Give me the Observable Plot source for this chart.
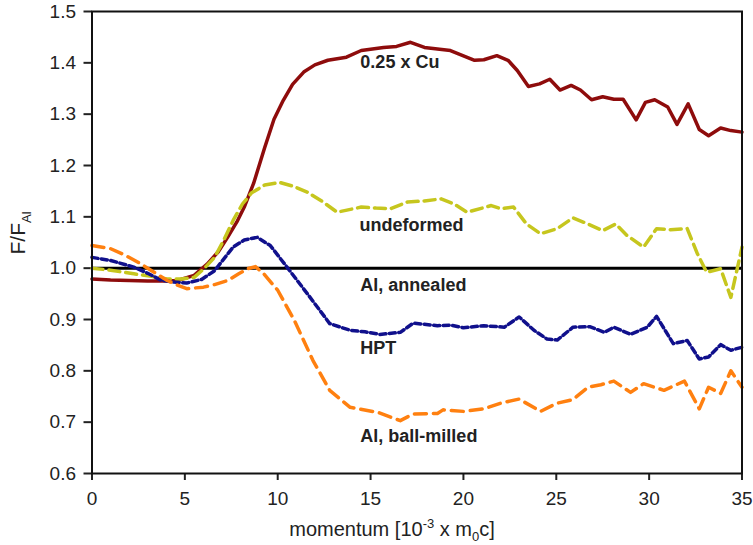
<!DOCTYPE html>
<html>
<head>
<meta charset="utf-8">
<script src="https://cdn.jsdelivr.net/npm/d3@7"></script>
<script src="https://cdn.jsdelivr.net/npm/@observablehq/plot@0.6"></script>
<style>
  html, body { margin: 0; padding: 0; background: #fff; }
  #chart { width: 753px; height: 545px; }
</style>
</head>
<body>
<div id="chart"></div>
<script>
// ---- data ----
const xTicks = [0, 5, 10, 15, 20, 25, 30, 35];
const yTicks = [0.6, 0.7, 0.8, 0.9, 1.0, 1.1, 1.2, 1.3, 1.4, 1.5];

const cuX = [0,1,2,3,4,4.6,5.5,6.2,6.8,7.3,7.8,8.2,8.7,9.3,9.8,10.3,10.8,11.4,12.0,12.7,13.7,14.5,15.7,16.4,17.15,17.9,19.3,20.6,21.1,21.8,22.4,22.9,23.5,24.1,24.65,25.2,25.8,26.3,26.9,27.5,28.1,28.6,29.3,29.8,30.3,31,31.5,32.1,32.7,33.2,33.85,34.4,35];
const cuY = [0.979,0.977,0.976,0.975,0.975,0.976,0.986,1.008,1.032,1.06,1.09,1.119,1.165,1.235,1.29,1.327,1.358,1.382,1.396,1.405,1.411,1.424,1.43,1.432,1.44,1.43,1.424,1.405,1.406,1.414,1.405,1.385,1.354,1.359,1.368,1.347,1.356,1.347,1.328,1.334,1.329,1.329,1.289,1.323,1.328,1.314,1.28,1.32,1.27,1.258,1.273,1.268,1.265];

const undefX = [0,1,2.25,3.2,4.05,4.8,5.5,6.0,6.6,7.1,7.6,8.1,8.6,9.3,10.1,10.8,11.6,12.4,13.2,14.5,15.3,16.1,17,17.9,18.8,19.5,20.2,21.5,22.0,22.7,23.4,24.15,25.05,25.9,26.7,27.5,28.2,28.8,29.7,30.4,31.15,32.05,32.6,33.1,33.85,34.4,35];
const undefY = [1.0,0.996,0.989,0.984,0.979,0.979,0.982,0.998,1.021,1.055,1.093,1.125,1.147,1.162,1.167,1.16,1.148,1.13,1.109,1.119,1.117,1.116,1.129,1.131,1.135,1.125,1.109,1.122,1.116,1.119,1.086,1.067,1.077,1.098,1.086,1.073,1.086,1.064,1.041,1.077,1.075,1.077,1.028,0.992,0.999,0.943,1.041];

const hptX = [0,1,2.25,3,3.7,4.4,5.1,5.9,6.6,7.1,7.6,8.2,8.9,9.6,10.5,11.6,12.8,13.9,14.7,15.5,16.6,17.3,18.6,19.3,20,21.1,22.2,23,23.8,24.5,25.05,25.9,26.8,27.6,28.1,29,29.9,30.4,31.3,32.05,32.7,33.2,33.85,34.4,35];
const hptY = [1.021,1.015,1.002,0.99,0.977,0.973,0.971,0.978,0.995,1.018,1.041,1.055,1.06,1.044,1.002,0.95,0.892,0.879,0.876,0.871,0.875,0.893,0.888,0.889,0.884,0.888,0.885,0.905,0.879,0.862,0.86,0.885,0.886,0.875,0.885,0.871,0.885,0.906,0.853,0.859,0.823,0.827,0.851,0.84,0.846];

const ballX = [0,1,1.8,2.6,3.3,4.05,4.6,5.1,6,6.6,7.3,7.9,8.4,8.8,9.25,10,10.9,11.9,12.8,13.9,15.4,16.6,17.3,18.6,18.9,20,21.1,22,23,24.15,25.05,25.9,26.7,27.4,28.1,29,29.7,30.8,31.9,32.7,33.2,33.85,34.4,35];
const ballY = [1.044,1.038,1.025,1.009,0.993,0.976,0.967,0.96,0.963,0.968,0.976,0.989,0.999,1.003,0.989,0.957,0.898,0.82,0.762,0.729,0.719,0.703,0.716,0.717,0.724,0.721,0.726,0.737,0.745,0.721,0.737,0.744,0.768,0.773,0.78,0.758,0.775,0.762,0.78,0.726,0.768,0.756,0.8,0.768];

const annealedY = 1.0;

const labelText = ["0.25 x Cu", "undeformed", "Al, annealed", "HPT", "Al, ball-milled"];
const labelX = [14.45, 14.4, 14.45, 14.45, 14.45];
const labelY = [1.389, 1.072, 0.9555, 0.832, 0.662];

// ---- build tables ----
const toRows = (xs, ys) => xs.map((x, i) => ({x, y: ys[i]}));
const cu = toRows(cuX, cuY);
const undef = toRows(undefX, undefY);
const hpt = toRows(hptX, hptY);
const ball = toRows(ballX, ballY);
const labels = labelText.map((t, i) => ({t, x: labelX[i], y: labelY[i]}));

const font = "'Liberation Sans', Arial, Helvetica, sans-serif";

const svg = Plot.plot({
  width: 753,
  height: 545,
  marginLeft: 91.5,
  marginRight: 11.5,
  marginTop: 11,
  marginBottom: 72,
  x: {domain: [0, 35]},
  y: {domain: [0.6, 1.5]},
  style: {fontFamily: font, fontSize: "19px", color: "#222", background: "#fff", overflow: "visible"},
  marks: [
    Plot.axisX({ticks: xTicks, tickSize: 7, tickPadding: 11, label: null, strokeWidth: 2, fontSize: 19}),
    Plot.axisY({ticks: yTicks, tickSize: 8, tickPadding: 8, label: null, strokeWidth: 2, fontSize: 19, tickFormat: d3.format(".1f")}),
    Plot.ruleY([annealedY], {stroke: "#000", strokeWidth: 3}),
    Plot.line(cu, {x: "x", y: "y", stroke: "#8e0c0c", strokeWidth: 3.5, curve: "linear"}),
    Plot.line(undef, {x: "x", y: "y", stroke: "#c6c61e", strokeWidth: 3.5, strokeDasharray: "11,6", curve: "linear"}),
    Plot.line(hpt, {x: "x", y: "y", stroke: "#10108c", strokeWidth: 3.5, strokeDasharray: "6,3.5", curve: "linear"}),
    Plot.line(ball, {x: "x", y: "y", stroke: "#ff8010", strokeWidth: 3.5, strokeDasharray: "12,7", curve: "linear"}),
    Plot.frame({stroke: "#111", strokeWidth: 2}),
    Plot.text(labels, {x: "x", y: "y", text: "t", textAnchor: "start", lineAnchor: "bottom", fontWeight: "bold", fontSize: 18, fill: "#222"})
  ]
});

const s = d3.select(svg);
// x-axis title with super/subscripts
const xt = s.append("text")
  .attr("x", 392).attr("y", 536)
  .attr("text-anchor", "middle")
  .attr("font-family", font).attr("font-size", 20).attr("fill", "#222");
xt.append("tspan").text("momentum [10");
xt.append("tspan").attr("dy", -8).attr("font-size", 13).text("-3");
xt.append("tspan").attr("dy", 8).text(" x m");
xt.append("tspan").attr("dy", 5).attr("font-size", 13).text("0");
xt.append("tspan").attr("dy", -5).text("c]");

// y-axis title with subscript
const yt = s.append("text")
  .attr("transform", "translate(25,233) rotate(-90)")
  .attr("text-anchor", "middle")
  .attr("font-family", font).attr("font-size", 21).attr("fill", "#222");
yt.append("tspan").text("F/F");
yt.append("tspan").attr("dy", 6).attr("font-size", 13).text("Al");

document.getElementById("chart").appendChild(svg);
</script>
</body>
</html>
